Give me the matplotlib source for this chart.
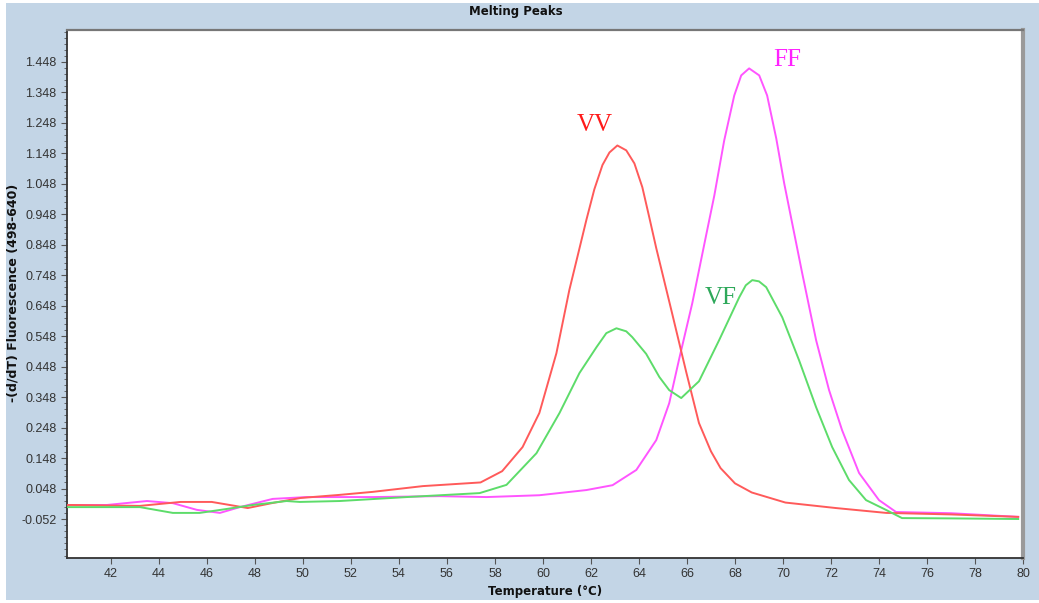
import matplotlib
matplotlib.use("Agg")
import matplotlib.pyplot as plt
import numpy as np
from matplotlib.patches import Rectangle

# data: temperature (C) and -(d/dT) fluorescence
vv_temp = [40.2, 40.4, 43.2, 44.9, 46.2, 47.7, 48.7, 49.9, 51.5, 52.9, 55.0, 57.4,
           58.3, 59.15, 59.85, 60.56, 61.1, 61.44, 61.81, 62.14, 62.48, 62.77, 63.1,
           63.47, 63.81, 64.14, 64.43, 64.72, 65.39, 65.97, 66.5, 67.0, 67.4, 68.0,
           68.7, 70.1, 72.2, 74.3, 77.0, 79.8]
vv_vals = [-0.006, -0.006, -0.009, 0.004, 0.004, -0.016, 0.0, 0.017, 0.027, 0.037,
           0.056, 0.068, 0.105, 0.184, 0.296, 0.492, 0.70, 0.81, 0.93, 1.03, 1.11,
           1.151, 1.174, 1.158, 1.115, 1.037, 0.938, 0.837, 0.62, 0.43, 0.263, 0.17,
           0.115, 0.065, 0.035, 0.002, -0.016, -0.032, -0.037, -0.045]

ff_temp = [40.2, 40.4, 41.83, 43.5, 44.58, 45.58, 46.54, 47.37, 48.74, 50.16, 52.9,
           55.69, 57.65, 59.85, 61.81, 62.9, 63.89, 64.72, 65.26, 65.68, 66.22, 66.8,
           67.14, 67.55, 67.97, 68.26, 68.59, 69.01, 69.34, 69.72, 70.05, 70.8, 71.38,
           71.92, 72.46, 73.17, 74.0, 74.71, 77.0, 79.8]
ff_vals = [-0.006, -0.006, -0.006, 0.007, 0.0, -0.022, -0.032, -0.013, 0.014, 0.020,
           0.020, 0.023, 0.020, 0.026, 0.043, 0.059, 0.109, 0.207, 0.328, 0.475, 0.656,
           0.88, 1.01, 1.19, 1.338, 1.404, 1.427, 1.404, 1.338, 1.197, 1.05, 0.755,
           0.535, 0.371, 0.24, 0.099, 0.010, -0.029, -0.033, -0.045]

vf_temp = [40.2, 40.4, 43.21, 44.58, 45.7, 46.83, 47.91, 49.32, 49.87, 51.53, 54.32,
           57.36, 58.48, 59.73, 60.69, 61.52, 62.23, 62.64, 63.06, 63.47, 63.72, 64.3,
           64.85, 65.26, 65.76, 66.5, 67.34, 68.18, 68.45, 68.72, 69.0, 69.3, 69.97,
           70.67, 71.38, 72.05, 72.75, 73.46, 74.29, 74.96, 77.0, 79.8]
vf_vals = [-0.013, -0.013, -0.013, -0.032, -0.032, -0.019, -0.006, 0.007, 0.004, 0.007,
           0.020, 0.033, 0.060, 0.164, 0.296, 0.427, 0.512, 0.558, 0.574, 0.564, 0.545,
           0.49, 0.414, 0.371, 0.345, 0.40, 0.535, 0.676, 0.715, 0.732, 0.728, 0.709,
           0.610, 0.469, 0.315, 0.184, 0.076, 0.010, -0.022, -0.049, -0.050, -0.052]

x_ticks = list(range(42, 81, 2))
y_ticks = [1.448, 1.348, 1.248, 1.148, 1.048, 0.948, 0.848, 0.748, 0.648, 0.548,
           0.448, 0.348, 0.248, 0.148, 0.048, -0.052]
y_labels = ["1.448", "1.348", "1.248", "1.148", "1.048", "0.948", "0.848", "0.748",
            "0.648", "0.548", "0.448", "0.348", "0.248", "0.148", "0.048", "-0.052"]

bg = "#c3d5e6"

fig = plt.figure(figsize=(10.39, 6.03), dpi=100, facecolor="white")
fig.patches.append(Rectangle((6 / 1039, 3 / 603), 1 - 6 / 1039, 1 - 6 / 603,
                             transform=fig.transFigure, facecolor=bg,
                             edgecolor="none", zorder=-10))
ax = fig.add_axes([67 / 1039, 1 - 558 / 603, (1023 - 67) / 1039, (558 - 30) / 603])
ax.set_facecolor("white")

ax.plot(vv_temp, vv_vals, color="#ff5a5a", lw=1.4, zorder=3)
ax.plot(vf_temp, vf_vals, color="#5ddc6a", lw=1.4, zorder=3)
ax.plot(ff_temp, ff_vals, color="#ff55ff", lw=1.4, zorder=2)

serif = ["Liberation Serif", "DejaVu Serif"]
ax.text(62.14, 1.24, "VV", color="#ff1a1a", fontsize=18, family=serif,
        ha="center", va="center")
ax.text(70.17, 1.453, "FF", color="#ff22ff", fontsize=18, family=serif,
        ha="center", va="center")
ax.text(67.39, 0.673, "VF", color="#2ea85a", fontsize=18, family=serif,
        ha="center", va="center", zorder=2)

ax.set_xlim(40.17, 80.0)
ax.set_ylim(-0.18, 1.553)
ax.set_xticks(x_ticks)
ax.set_yticks(y_ticks)
ax.set_yticklabels(y_labels)
ax.set_yticks(np.arange(-0.172, 1.553, 0.02), minor=True)
ax.tick_params(axis="y", which="minor", length=2, color="#555555")
ax.tick_params(axis="both", which="major", length=4, color="#555555",
               labelsize=9, labelcolor="#333333")
for lab in ax.get_xticklabels() + ax.get_yticklabels():
    lab.set_family(["Liberation Sans", "DejaVu Sans"])

for side in ["left", "bottom"]:
    ax.spines[side].set_color("#333333")
    ax.spines[side].set_linewidth(1.3)
ax.spines["top"].set_color("#777777")
ax.spines["top"].set_linewidth(1.6)
ax.spines["right"].set_color("#9a9a9a")
ax.spines["right"].set_linewidth(3)

fig.text(516 / 1039, 1 - 11 / 603, "Melting Peaks", ha="center", va="center",
         fontsize=8.5, fontweight="bold", color="#111111")
fig.text(545 / 1039, 1 - 592 / 603, "Temperature (°C)", ha="center", va="center",
         fontsize=8.5, fontweight="bold", color="#111111")
fig.text(13 / 1039, 1 - 293 / 603, "-(d/dT) Fluorescence (498-640)", ha="center",
         va="center", rotation=90, fontsize=9, fontweight="bold", color="#111111")

fig.savefig("out.png", dpi=100, facecolor=fig.get_facecolor())
